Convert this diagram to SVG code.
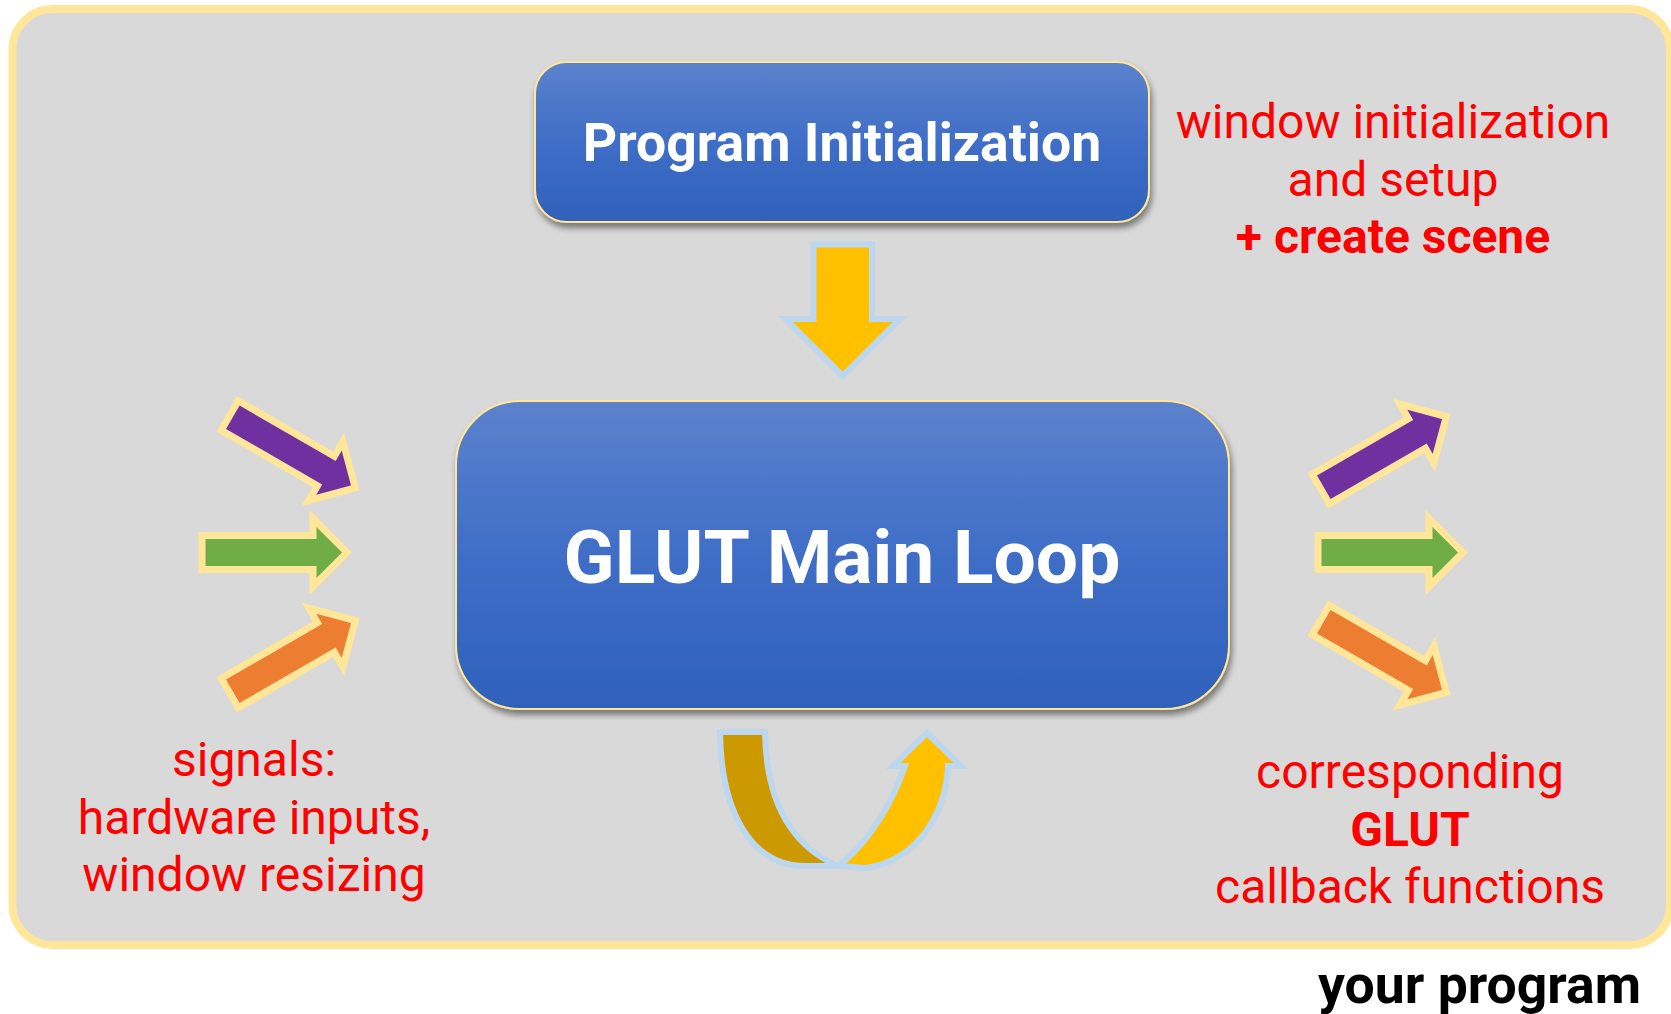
<svg xmlns="http://www.w3.org/2000/svg" width="1671" height="1014" viewBox="0 0 1671 1014">
  <defs>
    <linearGradient id="blueGrad" x1="0" y1="0" x2="0" y2="1">
      <stop offset="0" stop-color="#5c82cc"/>
      <stop offset="0.5" stop-color="#3f6ec7"/>
      <stop offset="1" stop-color="#2f61ba"/>
    </linearGradient>
    <filter id="shadow" x="-10%" y="-10%" width="120%" height="130%">
      <feDropShadow dx="2" dy="5" stdDeviation="3" flood-color="#000" flood-opacity="0.45"/>
    </filter>
    <path id="sigArrow" d="M-73,-17 H38 V-34 L72,0 L38,34 V17 H-73 Z"/>
  </defs>
  <style>
    .frame { fill: #d9d9d9; stroke: #ffe699; stroke-width: 8; }
    .box { fill: url(#blueGrad); stroke: #ffe699; stroke-width: 2; filter: url(#shadow); }
    .boxText { font-family: Roboto, "Liberation Sans", sans-serif; font-weight: bold; fill: #ffffff; text-anchor: middle; }
    .note { font-family: Roboto, "Liberation Sans", sans-serif; font-size: 48px; fill: #ff0000; text-anchor: middle; }
    .bold { font-weight: bold; }
    .sig { stroke: #ffe699; stroke-width: 7; stroke-linejoin: miter; stroke-miterlimit: 10; }
    .flow { stroke: #bdd7ee; stroke-width: 6; stroke-linejoin: miter; stroke-miterlimit: 10; }
    .purple { fill: #7030a0; }
    .green { fill: #70ad47; }
    .orange { fill: #ed7d31; }
  </style>

  <rect class="frame" x="12.5" y="9" width="1657.5" height="936" rx="40" ry="40"/>

  <g id="program-initialization">
    <rect class="box" x="535" y="62" width="614" height="160" rx="32" ry="32"/>
    <text class="boxText" x="842" y="161" font-size="53.5">Program Initialization</text>
  </g>

  <g id="glut-main-loop">
    <rect class="box" x="456" y="401" width="773" height="308" rx="64" ry="64"/>
    <text class="boxText" x="842" y="583" font-size="75">GLUT Main Loop</text>
  </g>

  <g id="note-init">
    <text class="note" x="1393" y="138">window initialization</text>
    <text class="note" x="1393" y="196">and setup</text>
    <text class="note bold" x="1393" y="253">+ create scene</text>
  </g>

  <g id="note-signals">
    <text class="note" x="254" y="776">signals:</text>
    <text class="note" x="254" y="834">hardware inputs,</text>
    <text class="note" x="254" y="891">window resizing</text>
  </g>

  <g id="note-callbacks">
    <text class="note" x="1410" y="788">corresponding</text>
    <text class="note bold" x="1410" y="846">GLUT</text>
    <text class="note" x="1410" y="903">callback functions</text>
  </g>

  <g id="label-program">
    <text x="1641" y="1003" font-family="Roboto, 'Liberation Sans', sans-serif" font-weight="bold" font-size="53.5" fill="#000000" text-anchor="end">your program</text>
  </g>

  <g id="connectors">
    <path class="flow" fill="#ffc000" d="M813.5,244.5 H872 V319 H900 L842.7,376 L785.5,319 H813.5 Z"/>
    <use href="#sigArrow" class="sig purple" transform="translate(293,452) rotate(30)"/>
    <use href="#sigArrow" class="sig green" transform="translate(275,552.5)"/>
    <use href="#sigArrow" class="sig orange" transform="translate(293,656.5) rotate(-30)"/>
    <use href="#sigArrow" class="sig purple" transform="translate(1384,452.5) rotate(-30)"/>
    <use href="#sigArrow" class="sig green" transform="translate(1391,552.5)"/>
    <use href="#sigArrow" class="sig orange" transform="translate(1384,656.5) rotate(30)"/>
    <path class="flow" fill="#cc9900" stroke-width="5" d="M720,732 H765 C766,800 790,845 838,866 H805 C750,866 721,810 720,732 Z"/>
    <path class="flow" fill="#ffc000" stroke-width="5" d="M838,866 C850,858 885,825 905,766 H893 L927,733 L961,766 H948 C946,810 920,860 866,868 Z"/>
  </g>
</svg>
